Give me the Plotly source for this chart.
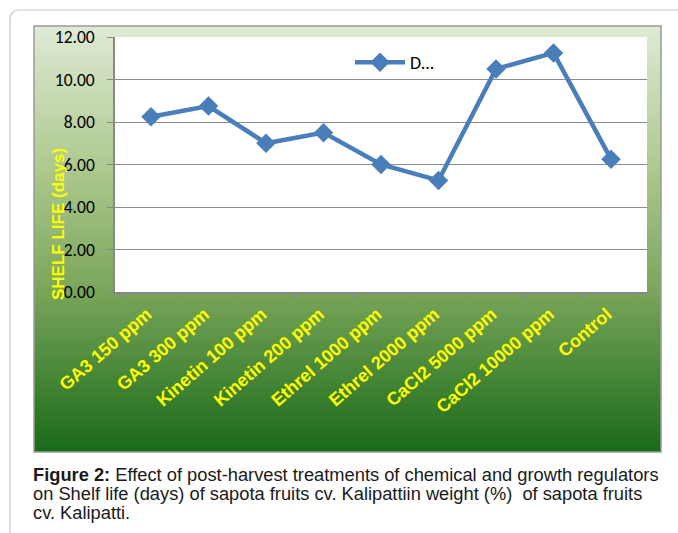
import plotly.graph_objects as go

# Shelf life of sapota fruits under post-harvest treatments
treatments = ["GA3 150 ppm", "GA3 300 ppm", "Kinetin 100 ppm", "Kinetin 200 ppm",
              "Ethrel 1000 ppm", "Ethrel 2000 ppm", "CaCl2 5000 ppm",
              "CaCl2 10000 ppm", "Control"]
shelf_life = [8.25, 8.75, 7.00, 7.50, 6.00, 5.25, 10.50, 11.25, 6.25]
y_ticks = [0, 2, 4, 6, 8, 10, 12]

caption_lines = [
    "<b>Figure 2:</b> Effect of post-harvest treatments of chemical and growth regulators",
    "on Shelf life (days) of sapota fruits cv. Kalipattiin weight (%)  of sapota fruits",
    "cv. Kalipatti.",
]

W, H = 678, 533


def px(x):
    return x / W


def py(y):
    return 1 - y / H


fig = go.Figure()
fig.add_trace(go.Scatter(
    x=treatments, y=shelf_life, mode="lines+markers", name="D...",
    line=dict(color="#4a7ebb", width=4.5),
    marker=dict(symbol="diamond", size=15, color="#4a7ebb"),
))

shapes = []
# outer frame (top and left edges visible, rounded corner)
shapes.append(dict(
    type="path", xref="paper", yref="paper",
    path=f"M {px(10)},{py(545)} L {px(10)},{py(20)} Q {px(10)},{py(10)} {px(20)},{py(10)} L {px(700)},{py(10)}",
    line=dict(color="#c8c8c8", width=1.2), layer="below"))

# vertical gradient fill for the chart area
stops = [(26, (223, 234, 213)), (160, (176, 203, 146)), (290, (122, 166, 90)),
         (452, (25, 106, 25))]
top, bot = 26, 452
n = 106
for i in range(n):
    y0 = top + (bot - top) * i / n
    y1 = top + (bot - top) * (i + 1) / n
    ym = (y0 + y1) / 2
    for (a, ca), (b, cb) in zip(stops[:-1], stops[1:]):
        if a <= ym <= b:
            t = (ym - a) / (b - a)
            c = tuple(round(ca[k] + (cb[k] - ca[k]) * t) for k in range(3))
            break
    shapes.append(dict(type="rect", xref="paper", yref="paper",
                       x0=px(34), x1=px(661), y0=py(min(y1 + 1.5, bot)), y1=py(y0),
                       fillcolor=f"rgb{c}", line=dict(width=0), layer="below"))
shapes.append(dict(type="rect", xref="paper", yref="paper",
                   x0=px(34), x1=px(661), y0=py(452), y1=py(26),
                   line=dict(color="#9a9a9a", width=1.5), layer="below"))
# white plot background
shapes.append(dict(type="rect", xref="paper", yref="paper",
                   x0=px(115), x1=px(647), y0=py(292), y1=py(37),
                   fillcolor="white", line=dict(width=0), layer="below"))

annotations = [
    dict(text="<b>SHELF LIFE (days)</b>", xref="paper", yref="paper",
         x=px(58), y=py(224), textangle=-90, showarrow=False,
         font=dict(family="Liberation Sans, Arial", size=17, color="#ffff00"),
         xanchor="center", yanchor="middle"),
]
for i, line in enumerate(caption_lines):
    annotations.append(dict(
        text=line, xref="paper", yref="paper", x=px(31), y=py(474 + 19.3 * i),
        xanchor="left", yanchor="middle", align="left", showarrow=False,
        font=dict(family="Liberation Sans, Arial", size=18.3, color="#1a1a1a")))

fig.update_layout(
    width=W, height=H, margin=dict(l=0, r=0, t=0, b=0, autoexpand=False),
    paper_bgcolor="white", plot_bgcolor="rgba(0,0,0,0)",
    shapes=shapes, annotations=annotations,
    showlegend=True,
    legend=dict(x=px(350), y=py(44), xanchor="left", yanchor="top",
                bgcolor="rgba(0,0,0,0)", itemwidth=50,
                font=dict(family="Carlito, Liberation Sans, Arial", size=18, color="black")),
    xaxis=dict(domain=[px(115), px(647)], type="category", tickson="boundaries",
               automargin=False,
               ticks="outside", ticklen=5, tickcolor="#888", showline=True,
               linecolor="#888", linewidth=1.5, showgrid=False, tickangle=-41,
               tickfont=dict(family="Liberation Sans, Arial", size=18, color="#ffff00",
                             weight="bold"),
               ticklabelstandoff=3, ticklabelshift=-4),
    yaxis=dict(domain=[py(292), py(37)], range=[0, 12], tickvals=y_ticks,
               automargin=False,
               tickformat=".2f", ticks="outside", ticklen=6, tickcolor="#888",
               showline=True, linecolor="#888", linewidth=1.5, showgrid=True,
               gridcolor="#8c8c8c", gridwidth=1.2, zeroline=False,
               ticklabelstandoff=9,
               tickfont=dict(family="Carlito, Liberation Sans, Arial", size=17.5, color="black")),
)

fig.write_html("out.html")
